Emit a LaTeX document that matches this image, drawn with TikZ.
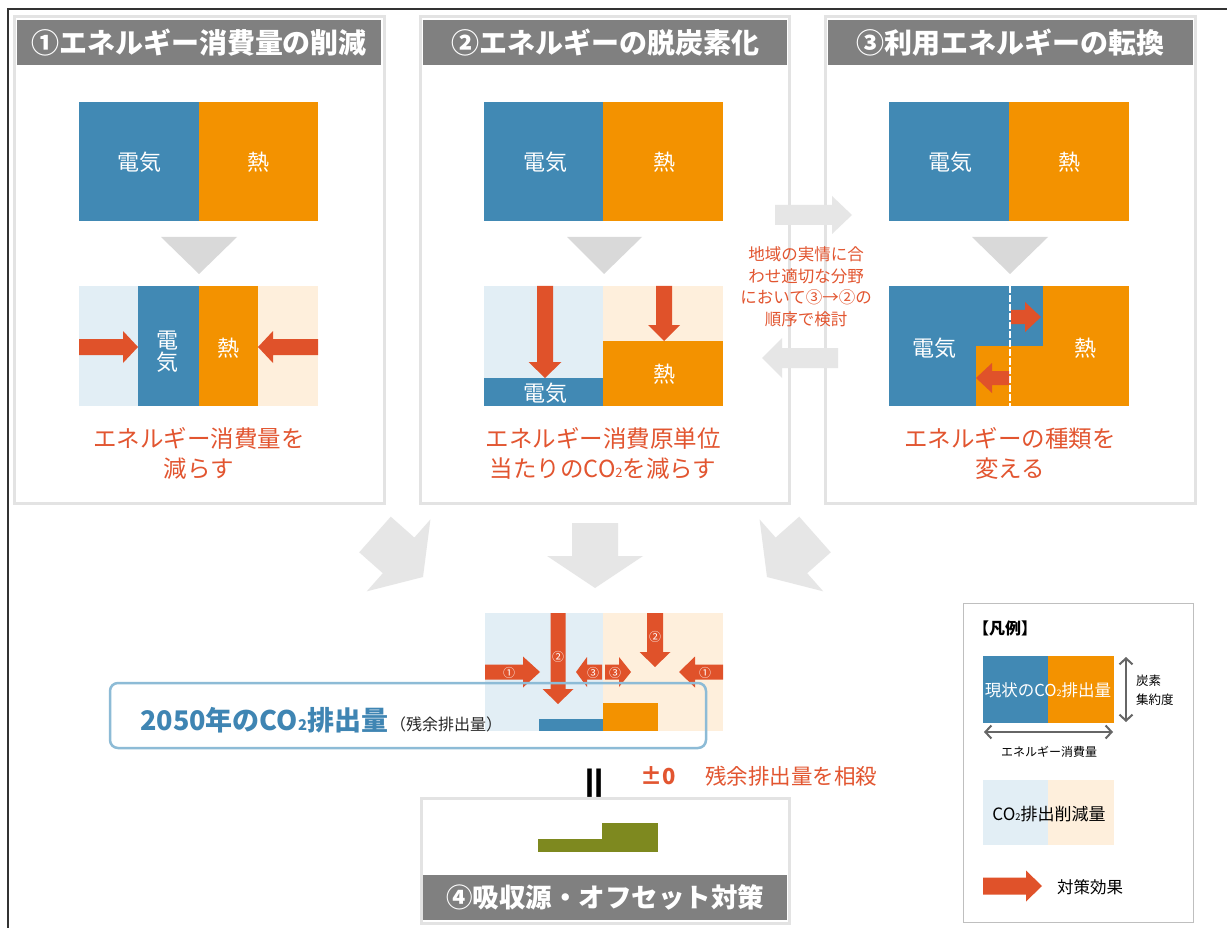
\documentclass[tikz,border=0pt]{standalone}
\usepackage{fontspec}
\setmainfont{Noto Sans CJK JP}
\usetikzlibrary{calc,arrows.meta}
\definecolor{cblue}{HTML}{4189B4}
\definecolor{corange}{HTML}{F39200}
\definecolor{lblue}{HTML}{E2EEF5}
\definecolor{lorange}{HTML}{FEEFDC}
\definecolor{cred}{HTML}{E0522A}
\definecolor{tred}{HTML}{E25530}
\definecolor{hgray}{HTML}{808080}
\definecolor{pborder}{HTML}{E3E3E3}
\definecolor{garrow}{HTML}{E6E6E6}
\definecolor{gtri}{HTML}{D9D9D9}
\definecolor{colive}{HTML}{7E891F}
\definecolor{boxblue}{HTML}{8DBBD6}
\definecolor{tblue}{HTML}{3F85B3}
\newcommand{\subtwo}{\scalebox{0.55}{2}}
\newcommand{\blkarrow}[6]{%
  \path ($(#3)!#6!(#2)$) coordinate (hb);
  \fill[#1] ($(#2)!#4!90:(#3)$) -- ($(hb)!#4!90:(#3)$) -- ($(hb)!#5!90:(#3)$) -- (#3)
    -- ($(hb)!#5!-90:(#3)$) -- ($(hb)!#4!-90:(#3)$) -- ($(#2)!#4!-90:(#3)$) -- cycle;
}
\tikzset{
  panel/.style={draw=pborder, line width=3pt, fill=white},
  header/.style={fill=hgray},
  ttl/.style={text=white, font=\bfseries\fontsize{28}{28}\selectfont, inner sep=0pt},
  wtxt/.style={text=white, font=\fontsize{22}{22}\selectfont, inner sep=0pt},
  rtxt/.style={text=tred, font=\fontsize{23.5}{30}\selectfont, align=center, inner sep=0pt},
  ctxt/.style={text=white, font=\fontsize{12}{12}\selectfont, inner sep=0pt},
  lgtxt/.style={font=\fontsize{16.5}{16.5}\selectfont, inner sep=0pt},
  tri/.style={fill=gtri},
}
\begin{document}
\begin{tikzpicture}[x=1pt,y=-1pt]
\useasboundingbox (0,0) rectangle (1227,928);
\fill[white] (0,0) rectangle (1227,928);
% outer frame
\draw[line width=2pt, black!80] (8,928) -- (8,9) -- (1227,9);

% ===== Panel 1 =====
\draw[panel] (14,17) rectangle (384,503);
\fill[header] (17,20) rectangle (381,65);
\node[ttl] (t1) at (199,43) {①エネルギー消費量の削減};
\fill[cblue] (79,102) rectangle (199,221);
\fill[corange] (199,102) rectangle (318,221);
\node[wtxt] (p1a) at (139,162) {電気};
\node[wtxt] (p1b) at (258,162) {熱};
\fill[tri] (161,237) -- (237,237) -- (199,274) -- cycle;
\fill[lblue] (79,286) rectangle (138,406);
\fill[cblue] (138,286) rectangle (199,406);
\fill[corange] (199,286) rectangle (258,406);
\fill[lorange] (258,286) rectangle (318,406);
\node[wtxt, align=center, font=\fontsize{22}{22}\selectfont] (p1c) at (167,352) {電\\気};
\node[wtxt] (p1d) at (228,348) {熱};
\blkarrow{cred}{79,347}{138,347}{8pt}{16pt}{15pt}
\blkarrow{cred}{318,347}{258,347}{8pt}{16pt}{15pt}
\node[rtxt] (r1) at (199,453) {エネルギー消費量を\\減らす};

% ===== Panel 2 =====
\draw[panel] (420,17) rectangle (789,503);
\fill[header] (423,20) rectangle (787,65);
\node[ttl] (t2) at (605,43) {②エネルギーの脱炭素化};
\fill[cblue] (484,102) rectangle (603,221);
\fill[corange] (603,102) rectangle (723,221);
\node[wtxt] (p2a) at (545,162) {電気};
\node[wtxt] (p2b) at (664,162) {熱};
\fill[tri] (567,237) -- (642,237) -- (604,274) -- cycle;
\fill[lblue] (484,286) rectangle (603,378);
\fill[cblue] (484,378) rectangle (603,406);
\fill[lorange] (603,286) rectangle (723,341);
\fill[corange] (603,341) rectangle (723,406);
\node[wtxt] (p2c) at (545,393) {電気};
\node[wtxt] (p2d) at (664,374) {熱};
\blkarrow{cred}{545,286}{545,378}{8pt}{16.5pt}{16pt}
\blkarrow{cred}{664,286}{664,341}{8pt}{16pt}{16pt}
\node[rtxt] (r2) at (603,453) {エネルギー消費原単位\\当たりのCO\subtwo を減らす};

% ===== Panel 3 =====
\draw[panel] (825,17) rectangle (1195,503);
\fill[header] (828,20) rectangle (1193,65);
\node[ttl] (t3) at (1010,43) {③利用エネルギーの転換};
\fill[cblue] (889,102) rectangle (1009,221);
\fill[corange] (1009,102) rectangle (1129,221);
\node[wtxt] (p3a) at (950,162) {電気};
\node[wtxt] (p3b) at (1069,162) {熱};
\fill[tri] (972,237) -- (1048,237) -- (1010,274) -- cycle;
\fill[cblue] (889,286) rectangle (1009,406);
\fill[corange] (1009,286) rectangle (1129,406);
\fill[cblue] (1009,286) rectangle (1043,346);
\fill[corange] (976,346) rectangle (1009,406);
\draw[white, line width=1.6pt, dash pattern=on 7pt off 2pt] (1010,286) -- (1010,406);
\blkarrow{cred}{1011,317}{1041,317}{7pt}{15pt}{16pt}
\blkarrow{cred}{1009,378}{976,378}{7pt}{15pt}{16pt}
\node[wtxt] (p3c) at (934,348) {電気};
\node[wtxt] (p3d) at (1085,348) {熱};
\node[rtxt] (r3) at (1010,453) {エネルギーの種類を\\変える};

% ===== middle note with arrows =====
\blkarrow{garrow}{775,215}{852,215}{10pt}{19pt}{20pt}
\blkarrow{garrow}{838,358}{762,358}{10pt}{20pt}{20pt}
\node[text=tred, font=\fontsize{16.5}{21.5}\selectfont, align=center, inner sep=0pt] (mid) at (806,287)
  {地域の実情に合\\わせ適切な分野\\において③→②の\\順序で検討};

% ===== big gray arrows =====
\blkarrow{garrow}{375,534.5}{423,577}{23.8pt}{48pt}{32.6pt}
\blkarrow{garrow}{595,523}{595,588}{23pt}{48pt}{32pt}
\blkarrow{garrow}{815,534.5}{767,577}{23.8pt}{48pt}{32.6pt}

% ===== 2050 diagram =====
\fill[lblue] (485,613) rectangle (603,731);
\fill[lorange] (603,613) rectangle (723,731);
\fill[cblue] (539,719) rectangle (603,731);
\fill[corange] (603,703) rectangle (658,731);
\blkarrow{cred}{485,672}{540,672}{7.5pt}{15.5pt}{17pt}
\blkarrow{cred}{558,613}{558,704}{7.5pt}{15.5pt}{15pt}
\blkarrow{cred}{602,672}{576,672}{7.5pt}{15pt}{11pt}
\blkarrow{cred}{605,672}{631,672}{7.5pt}{15pt}{12pt}
\blkarrow{cred}{655,613}{655,667}{8pt}{15.5pt}{15pt}
\blkarrow{cred}{723,672}{679,672}{7.5pt}{15.5pt}{16pt}
\node[ctxt] (c1a) at (509,673) {①};
\node[ctxt] (c2a) at (558,657) {②};
\node[ctxt] (c3a) at (593,673) {③};
\node[ctxt] (c3b) at (615,673) {③};
\node[ctxt] (c2b) at (655,637) {②};
\node[ctxt] (c1b) at (705,673) {①};
\draw[boxblue, line width=2.5pt, rounded corners=8pt] (110,683) rectangle (706,748);
\node[anchor=west, inner sep=0pt] (y2050) at (140,720)
  {\textcolor{tblue}{\bfseries\fontsize{27}{27}\selectfont 2050年のCO\subtwo 排出量}\hspace{2pt}{\fontsize{16}{16}\selectfont\color{black!85}（残余排出量）}};

% ===== equals / offset =====
\node[rotate=90, inner sep=0pt] (eq) at (599,783) {\scalebox{1.45}[1.35]{\bfseries\fontsize{28}{28}\selectfont ＝}};
\node[text=tred, font=\bfseries\fontsize{22}{22}\selectfont, inner sep=0pt] (pm) at (658,776) {±0};
\node[text=tred, font=\fontsize{21.5}{21.5}\selectfont, anchor=west, inner sep=0pt] (sousai) at (705,776) {残余排出量を相殺};

% ===== Panel 4 =====
\draw[panel] (421,798) rectangle (789,923);
\fill[header] (423,875) rectangle (787,920);
\fill[colive] (538,839) rectangle (658,852);
\fill[colive] (602,823) rectangle (658,852);
\node[ttl, font=\bfseries\fontsize{26.5}{26.5}\selectfont] (t4) at (605,897) {④吸収源・オフセット対策};

% ===== Legend =====
\draw[black!25, line width=1pt] (963,603) rectangle (1193,922);
\node[anchor=west, font=\bfseries\fontsize{16}{16}\selectfont, inner sep=0pt] (lgt) at (973,628) {【凡例】};
\fill[cblue] (983,656) rectangle (1048,723);
\fill[corange] (1048,656) rectangle (1114,723);
\node[lgtxt, text=white] (lg1) at (1048,690) {現状のCO\subtwo 排出量};
\coordinate (va) at (1126,657);
\coordinate (vb) at (1126,722);
\coordinate (ha) at (984,732);
\coordinate (hb2) at (1113,732);
\draw[{Straight Barb[length=6pt,width=13pt]}-{Straight Barb[length=6pt,width=13pt]}, line width=2pt, black!60] (va) -- (vb);
\draw[{Straight Barb[length=6pt,width=13pt]}-{Straight Barb[length=6pt,width=13pt]}, line width=2pt, black!60] (ha) -- (hb2);
\node[anchor=west, font=\fontsize{12.5}{19}\selectfont, align=left, inner sep=0pt] (lgc) at (1136,690) {炭素\\集約度};
\node[font=\fontsize{12}{12}\selectfont, inner sep=0pt] (lge) at (1049,752) {エネルギー消費量};
\fill[lblue] (983,780) rectangle (1048,845);
\fill[lorange] (1048,780) rectangle (1114,845);
\node[lgtxt, font=\fontsize{17}{17}\selectfont] (lg2) at (1049,814) {CO\subtwo 排出削減量};
\blkarrow{cred}{983,886}{1042,886}{8.5pt}{15.5pt}{16pt}
\node[lgtxt, anchor=west] (lg3) at (1057,887) {対策効果};
\end{tikzpicture}
\end{document}
